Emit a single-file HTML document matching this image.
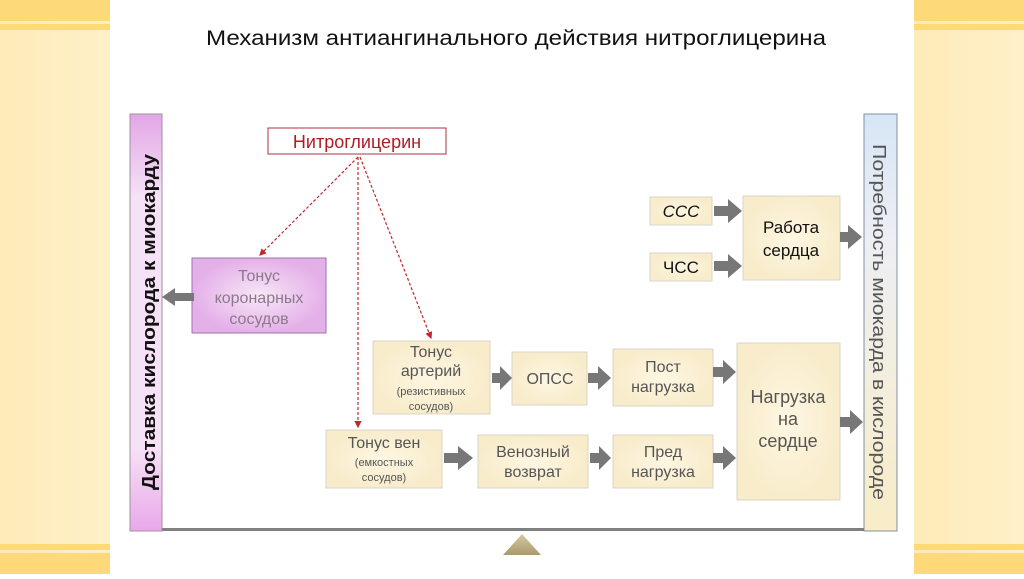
<!DOCTYPE html>
<html><head><meta charset="utf-8"><style>
body{margin:0;width:1024px;height:574px;overflow:hidden;background:#fff;font-family:"Liberation Sans","DejaVu Sans",sans-serif}
</style></head><body>
<svg width="1024" height="574" viewBox="0 0 1024 574" xmlns="http://www.w3.org/2000/svg" font-family="Liberation Sans, DejaVu Sans, sans-serif">
<defs>
<linearGradient id="side" x1="0" y1="0" x2="1" y2="0"><stop offset="0" stop-color="#fdebb8"/><stop offset="1" stop-color="#fff0c8"/></linearGradient>
<linearGradient id="pl" x1="0" y1="0" x2="0" y2="1"><stop offset="0" stop-color="#e2a6e6"/><stop offset=".2" stop-color="#f6e2f6"/><stop offset=".8" stop-color="#f6e2f6"/><stop offset="1" stop-color="#e9a8ea"/></linearGradient>
<linearGradient id="pr" x1="0" y1="0" x2="0" y2="1"><stop offset="0" stop-color="#d6e6f6"/><stop offset=".3" stop-color="#eeeef4"/><stop offset="1" stop-color="#f8edc6"/></linearGradient>
<radialGradient id="pb"><stop offset="0" stop-color="#f8e6f8"/><stop offset="1" stop-color="#e4b0e8"/></radialGradient>
<radialGradient id="yb"><stop offset="0" stop-color="#fdf6e2"/><stop offset="1" stop-color="#f8eccb"/></radialGradient>
<linearGradient id="tri" x1="0" y1="0" x2="0" y2="1"><stop offset="0" stop-color="#d6c9a0"/><stop offset="1" stop-color="#a89a6c"/></linearGradient>
<marker id="ra" markerWidth="6" markerHeight="6" refX="5" refY="3" orient="auto"><path d="M0,0 L6,3 L0,6z" fill="#c0282c"/></marker>
</defs>
<rect x="0" y="0" width="110" height="574" fill="url(#side)"/>
<rect x="914" y="0" width="110" height="574" fill="url(#side)"/>
<g fill="#fdd97a">
<rect x="0" y="0" width="110" height="21"/><rect x="0" y="24" width="110" height="6"/>
<rect x="0" y="544" width="110" height="6"/><rect x="0" y="553" width="110" height="21"/>
<rect x="914" y="0" width="110" height="21"/><rect x="914" y="24" width="110" height="6"/>
<rect x="914" y="544" width="110" height="6"/><rect x="914" y="553" width="110" height="21"/>
</g>
<text x="206" y="45" font-size="21" textLength="620" lengthAdjust="spacingAndGlyphs" fill="#111">Механизм антиангинального действия нитроглицерина</text>

<rect x="130" y="114" width="32" height="417" fill="url(#pl)" stroke="#a090a0"/>
<text transform="translate(155,322) rotate(-90)" font-size="18" font-weight="bold" text-anchor="middle" textLength="336" lengthAdjust="spacingAndGlyphs" fill="#111">Доставка кислорода к миокарду</text>
<rect x="864" y="114" width="33" height="417" fill="url(#pr)" stroke="#8090a0"/>
<text transform="translate(873,322) rotate(90)" font-size="18" text-anchor="middle" textLength="356" lengthAdjust="spacingAndGlyphs" fill="#555">Потребность миокарда в кислороде</text>
<rect x="162" y="528" width="702" height="3" fill="#808080"/>
<path d="M503,555 L522,534 L541,555z" fill="url(#tri)"/>

<rect x="268" y="128" width="178" height="26" fill="#fff" stroke="#b03040"/>
<text x="357" y="148" font-size="18" text-anchor="middle" fill="#b01c24">Нитроглицерин</text>
<g stroke="#c0282c" stroke-width="1.2" stroke-dasharray="3,2" fill="none">
<line x1="358" y1="157" x2="260" y2="255" marker-end="url(#ra)"/>
<line x1="358" y1="157" x2="358" y2="427" marker-end="url(#ra)"/>
<line x1="360" y1="157" x2="431" y2="338" marker-end="url(#ra)"/>
</g>

<rect x="192" y="258" width="134" height="75" fill="url(#pb)" stroke="#a070b0"/>
<g font-size="16" fill="#8a7a8a" text-anchor="middle"><text x="259" y="281">Тонус</text><text x="259" y="303">коронарных</text><text x="259" y="324">сосудов</text></g>

<g stroke="#d8d4c4" fill="url(#yb)">
<rect x="373" y="341" width="117" height="73"/>
<rect x="512" y="352" width="75" height="53"/>
<rect x="613" y="349" width="100" height="57"/>
<rect x="737" y="343" width="103" height="157"/>
<rect x="326" y="430" width="116" height="58"/>
<rect x="478" y="435" width="110" height="53"/>
<rect x="613" y="435" width="100" height="53"/>
<rect x="650" y="197" width="62" height="28"/>
<rect x="650" y="253" width="62" height="28"/>
<rect x="743" y="196" width="97" height="84"/>
</g>
<g fill="#555" text-anchor="middle" font-size="16">
<text x="431" y="357">Тонус</text><text x="431" y="376">артерий</text>
<text x="431" y="395" font-size="11">(резистивных</text><text x="431" y="410" font-size="11">сосудов)</text>
<text x="550" y="384">ОПСС</text>
<text x="663" y="372">Пост</text><text x="663" y="392">нагрузка</text>
<text x="788" y="403" font-size="18">Нагрузка</text><text x="788" y="425" font-size="18">на</text><text x="788" y="447" font-size="18">сердце</text>
<text x="384" y="448">Тонус вен</text>
<text x="384" y="466" font-size="11">(емкостных</text><text x="384" y="481" font-size="11">сосудов)</text>
<text x="533" y="457">Венозный</text><text x="533" y="477">возврат</text>
<text x="663" y="457">Пред</text><text x="663" y="477">нагрузка</text>
</g>
<g fill="#111" text-anchor="middle" font-size="17">
<text x="681" y="217" font-style="italic">ССС</text>
<text x="681" y="273">ЧСС</text>
<text x="791" y="233">Работа</text><text x="791" y="256">сердца</text>
</g>

<g fill="#777">
<path d="M162,297 L175,288 L175,293 L194,293 L194,301 L175,301 L175,306z"/>
<path d="M492,373 L500,373 L500,366 L512,378 L500,390 L500,383 L492,383z"/>
<path d="M588,373 L598,373 L598,366 L611,378 L598,390 L598,383 L588,383z"/>
<path d="M713,367 L723,367 L723,360 L736,372 L723,384 L723,377 L713,377z"/>
<path d="M444,453 L458,453 L458,446 L473,458 L458,470 L458,463 L444,463z"/>
<path d="M590,453 L599,453 L599,446 L611,458 L599,470 L599,463 L590,463z"/>
<path d="M713,453 L723,453 L723,446 L736,458 L723,470 L723,463 L713,463z"/>
<path d="M840,417 L850,417 L850,410 L863,422 L850,434 L850,427 L840,427z"/>
<path d="M840,232 L848,232 L848,225 L862,237 L848,249 L848,242 L840,242z"/>
<path d="M714,206 L728,206 L728,199 L742,211 L728,223 L728,216 L714,216z"/>
<path d="M714,261 L728,261 L728,254 L742,266 L728,278 L728,271 L714,271z"/>
</g>
</svg>
</body></html>
